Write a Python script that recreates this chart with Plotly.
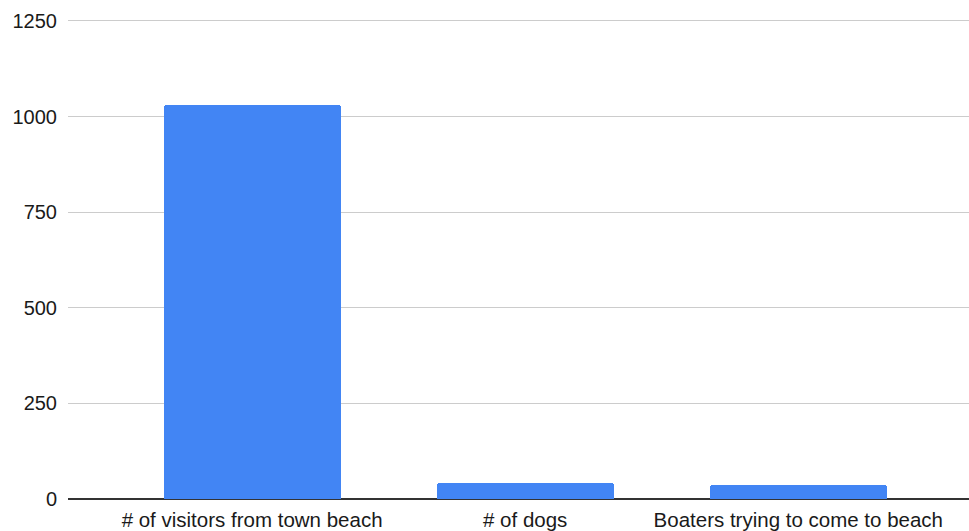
import plotly.graph_objects as go

# Beach survey counts
categories = ["# of visitors from town beach", "# of dogs", "Boaters trying to come to beach"]
counts = [1029, 41, 36]
y_ticks = [0, 250, 500, 750, 1000, 1250]

fig = go.Figure(
    go.Bar(
        x=list(range(len(categories))),
        y=counts,
        width=0.648,
        marker=dict(color="#4285F4", cornerradius=3, line=dict(width=0)),
        hoverinfo="skip",
    )
)

fig.update_layout(
    width=969,
    height=531,
    margin=dict(l=68, r=0, t=19, b=32),
    paper_bgcolor="white",
    plot_bgcolor="white",
    font=dict(family="Liberation Sans, Arial, sans-serif", size=20, color="#1a1a1a"),
    showlegend=False,
    bargap=0,
)

fig.update_xaxes(
    range=[-0.674, 2.625],
    tickmode="array",
    tickvals=list(range(len(categories))),
    ticktext=categories,
    tickfont=dict(size=20.5),
    showgrid=False,
    zeroline=False,
    showline=False,
    ticks="",
    ticklabelstandoff=6,
    fixedrange=True,
)

fig.update_yaxes(
    range=[0, 1255],
    tickmode="array",
    tickvals=y_ticks,
    ticktext=[str(v) for v in y_ticks],
    tickfont=dict(size=20),
    showgrid=True,
    gridcolor="#cccccc",
    gridwidth=1,
    zeroline=True,
    zerolinecolor="#333333",
    zerolinewidth=2,
    showline=False,
    ticks="",
    ticklabelstandoff=10,
    fixedrange=True,
)

fig.write_html("out.html")
